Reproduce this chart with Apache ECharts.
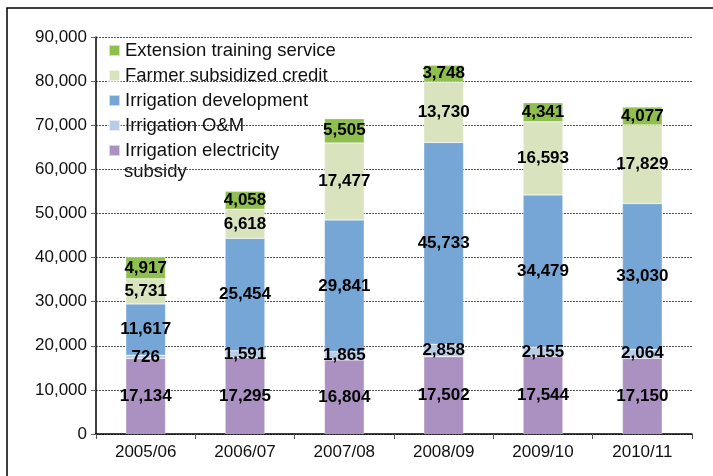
<!DOCTYPE html>
<html>
<head>
<meta charset="utf-8">
<script src="https://cdn.jsdelivr.net/npm/echarts@6/dist/echarts.min.js"></script>
<style>
  html, body { margin: 0; padding: 0; background: #fff; }
  #chart { width: 713px; height: 476px; }
</style>
</head>
<body>
<div id="chart"></div>
<script>
// Fiscal years on the category axis
const years = ['2005/06', '2006/07', '2007/08', '2008/09', '2009/10', '2010/11'];

// Spending components, stacked bottom to top
const electricitySubsidy = [17134, 17295, 16804, 17502, 17544, 17150];
const irrigationOM = [726, 1591, 1865, 2858, 2155, 2064];
const irrigationDevelopment = [11617, 25454, 29841, 45733, 34479, 33030];
const farmerCredit = [5731, 6618, 17477, 13730, 16593, 17829];
const extensionTraining = [4917, 4058, 5505, 3748, 4341, 4077];

// Value axis ticks
const yTicks = [0, 10000, 20000, 30000, 40000, 50000, 60000, 70000, 80000, 90000];

const FONT = '"Liberation Sans", Arial, sans-serif';
const fmt = v => v.toLocaleString('en-US');

const ELEC = 'Irrigation electricity subsidy';
const seriesDefs = [
  { name: ELEC, data: electricitySubsidy, color: '#ab91c1' },
  { name: 'Irrigation O&M', data: irrigationOM, color: '#b9cde6' },
  { name: 'Irrigation development', data: irrigationDevelopment, color: '#75a6d6' },
  { name: 'Farmer subsidized credit', data: farmerCredit, color: '#d9e4bf' },
  { name: 'Extension training service', data: extensionTraining, color: '#8fbf4f' }
];

const LEGEND_LEFT = 108, LEGEND_TOP = 40, LINE_H = 21, ITEM_GAP = 4;

const chart = echarts.init(document.getElementById('chart'), null, { renderer: 'canvas' });

chart.setOption({
  animation: false,
  backgroundColor: '#fff',
  grid: { left: 96, right: 21, top: 37, bottom: 42, containLabel: false },
  legend: {
    orient: 'vertical',
    left: LEGEND_LEFT,
    top: LEGEND_TOP,
    padding: 0,
    itemWidth: 11,
    itemHeight: 11,
    itemGap: ITEM_GAP,
    icon: 'rect',
    data: seriesDefs.map(s => s.name).reverse(),
    // the long last entry wraps; its second line is drawn below as graphic text
    formatter: name => (name === ELEC ? 'Irrigation electricity' : name),
    textStyle: { fontFamily: FONT, fontSize: 18.5, color: '#111', lineHeight: LINE_H }
  },
  xAxis: {
    type: 'category',
    data: years,
    axisLine: { lineStyle: { color: '#000', width: 1.5 } },
    axisTick: { show: true, length: 5, lineStyle: { color: '#555' } },
    axisLabel: { fontFamily: FONT, fontSize: 17, color: '#111', margin: 10 }
  },
  yAxis: {
    type: 'value',
    min: yTicks[0],
    max: yTicks[yTicks.length - 1],
    interval: yTicks[1] - yTicks[0],
    axisLine: { show: true, lineStyle: { color: '#000', width: 1.5 } },
    axisTick: { show: true, length: 5, lineStyle: { color: '#666' } },
    axisLabel: { fontFamily: FONT, fontSize: 17, color: '#111', margin: 9, formatter: v => fmt(v) },
    splitLine: { show: true, lineStyle: { color: '#555', type: [2, 1], width: 1 } }
  },
  series: seriesDefs.map(s => ({
    name: s.name,
    type: 'bar',
    stack: 'total',
    barWidth: '40%',
    data: s.data,
    itemStyle: { color: s.color, borderColor: 'rgba(255,255,255,0.6)', borderWidth: 0.5 },
    label: {
      show: true,
      position: 'inside',
      formatter: p => fmt(p.value),
      fontFamily: FONT,
      fontWeight: 'bold',
      fontSize: 17,
      color: '#000'
    }
  })),
  graphic: [
    {
      type: 'polyline',
      shape: { points: [[7, 476], [7, 8], [713, 8]] },
      style: { stroke: '#000', lineWidth: 1.5, fill: null }
    },
    {
      type: 'text',
      left: LEGEND_LEFT + 16,
      top: LEGEND_TOP + 4 * (LINE_H + ITEM_GAP) + LINE_H + 1,
      style: { text: 'subsidy', font: '18.5px ' + FONT, fill: '#111' }
    }
  ]
});
</script>
</body>
</html>
